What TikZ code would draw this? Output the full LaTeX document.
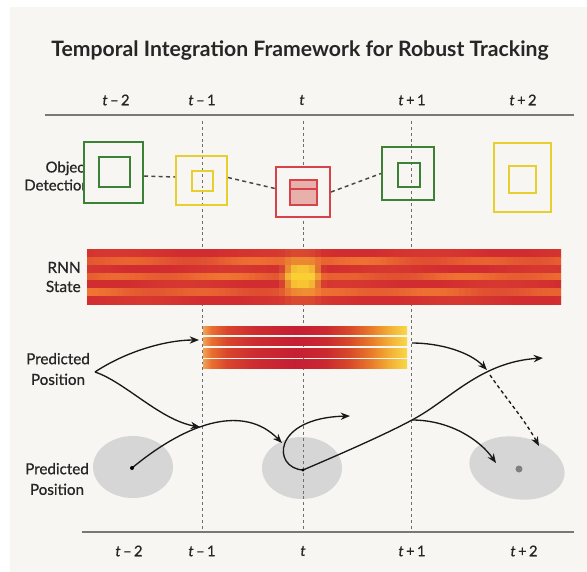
\documentclass[tikz,border=0pt]{standalone}
\usepackage{fontspec}
\setmainfont{Lato}
\newfontfamily\medfont{Lato}[FakeBold=0.7]
\usetikzlibrary{arrows.meta,calc}

\definecolor{paper}{HTML}{F7F6F3}
\definecolor{ink}{HTML}{262626}
\definecolor{axisgray}{HTML}{787878}
\definecolor{guide}{HTML}{6E6E6E}
\definecolor{detGreen}{HTML}{3C8236}
\definecolor{detYellow}{HTML}{E6CF2E}
\definecolor{detRed}{HTML}{D8424A}
\definecolor{detRedFill}{HTML}{E8B0AA}
\definecolor{blob}{HTML}{D6D6D6}
\definecolor{hmRed}{HTML}{D02A30}
\definecolor{hmOrange}{HTML}{F07532}
\definecolor{hmYellow}{HTML}{F9CF34}
% colour stops of the short prediction strips
\definecolor{sh0}{HTML}{F0A458}
\definecolor{sh1}{HTML}{E9702F}
\definecolor{sh2}{HTML}{D9442C}
\definecolor{sh3}{HTML}{CD2C30}
\definecolor{sh4}{HTML}{C51F33}
\definecolor{sh5}{HTML}{CB2830}
\definecolor{sh6}{HTML}{D84A2A}
\definecolor{sh7}{HTML}{E8782A}
\definecolor{sh8}{HTML}{F2A832}
\definecolor{sh9}{HTML}{F8D848}

\pgfdeclarehorizontalshading{stripheat}{100bp}{%
  color(0bp)=(sh0); color(25bp)=(sh0); color(27bp)=(sh1); color(31bp)=(sh2);
  color(37.5bp)=(sh3); color(47.5bp)=(sh4); color(55bp)=(sh5); color(61bp)=(sh6);
  color(66bp)=(sh7); color(70bp)=(sh8); color(75bp)=(sh9); color(100bp)=(sh9)}

\tikzset{
  titletext/.style={font=\fontsize{15.9}{18}\selectfont\bfseries, text=ink},
  rowlabel/.style={font=\medfont\fontsize{11.2}{13.5}\selectfont, text=ink, inner sep=0pt},
  ticklabel/.style={font=\medfont\fontsize{11}{13}\selectfont, text=ink, inner sep=0pt},
  axisline/.style={draw=axisgray, line width=1.2pt},
  guideline/.style={draw=guide, line width=0.7pt, dash pattern=on 2.2pt off 2.2pt},
  outerbox/.style={draw=#1, line width=1.5pt, inner sep=0pt, fill=paper},
  innerbox/.style={draw=#1, line width=1.5pt, inner sep=0pt},
  linkline/.style={draw=ink!85, line width=1.1pt, dash pattern=on 3pt off 2.5pt},
  flow/.style={draw=black!90, line width=1pt, -{Stealth[length=7pt,width=5.5pt]}},
  flowdash/.style={flow, dash pattern=on 2.6pt off 2.2pt},
}

\newcommand{\tl}[2]{\textit{#1}\,#2}

\begin{document}
\begin{tikzpicture}[x=0.75pt, y=-0.75pt]
\useasboundingbox (0,0) rectangle (587,572);
\fill[white] (0,0) rectangle (587,572);
\fill[paper] (10,7) rectangle (587,572);

% title
\node[titletext] (title) at (300,51) {Temporal Integration Framework for Robust Tracking};

% time axes
\coordinate (axTL) at (45,115);  \coordinate (axTR) at (574,115);
\coordinate (axBL) at (82,532);  \coordinate (axBR) at (574,532);
\draw[axisline] (axTL) -- (axTR);
\draw[axisline] (axBL) -- (axBR);

\node[ticklabel] (top1) at (116,100) {\tl{t}{–\,2}};
\node[ticklabel] (top2) at (202,100) {\tl{t}{–\,1}};
\node[ticklabel] (top3) at (302,100) {\textit{t}};
\node[ticklabel] (top4) at (412,100) {\tl{t}{+\,1}};
\node[ticklabel] (top5) at (523,100) {\tl{t}{+\,2}};

\node[ticklabel] (bot1) at (129,551) {\tl{t}{–\,2}};
\node[ticklabel] (bot2) at (202,551) {\tl{t}{–\,1}};
\node[ticklabel] (bot3) at (303,551) {\textit{t}};
\node[ticklabel] (bot4) at (412,551) {\tl{t}{+\,1}};
\node[ticklabel] (bot5) at (524,551) {\tl{t}{+\,2}};

% uncertainty blobs of the predicted positions
\coordinate (d1) at (132,468);
\coordinate (d2) at (303,470);
\coordinate (d3) at (519,469);
\fill[blob] (133,467) ellipse [x radius=40, y radius=31];
\fill[blob] (302,468) ellipse [x radius=40, y radius=31];
\fill[blob, rotate around={-10:(517,468)}] (517,468) ellipse [x radius=48, y radius=31];

% guides at t-1, t, t+1
\coordinate (g1a) at (202,121); \coordinate (g1b) at (202,529);
\coordinate (g2a) at (303,121); \coordinate (g2b) at (303,529);
\coordinate (g3a) at (411,121); \coordinate (g3b) at (411,529);
\draw[guideline] (g1a) -- (g1b);
\draw[guideline] (g2a) -- (g2b);
\draw[guideline] (g3a) -- (g3b);

% RNN state heat map
\begin{scope}
  \clip (87,249) rectangle (561,304);
  \foreach \i in {0,...,78}{
    \foreach \j in {0,...,6}{
      \pgfmathsetmacro{\xc}{90+6*\i}
      \pgfmathsetmacro{\w}{{0.1,0.3,0.75,1,0.75,0.3,0.1}[\j]}
      \pgfmathsetmacro{\dd}{min(3,abs(\xc-302)/17)}
      \pgfmathsetmacro{\hh}{min(100,125*\w*exp(-(\dd)^4))}
      \ifodd\j
        \pgfmathsetmacro{\v}{max(0,min(100,72+15*sin(3.1*\xc+35*\j)+12*sin(1.2*\xc+70*\j)))}
        \colorlet{cellbase}{hmOrange!\v!hmRed}
      \else
        \pgfmathsetmacro{\v}{max(0,min(100,90+8*sin(2.3*\xc+50*\j)))}
        \colorlet{cellbase}{hmRed!\v!hmOrange}
      \fi
      \colorlet{cellc}{hmYellow!\hh!cellbase}
      \fill[cellc] (\xc-3,{249+55/7*\j}) rectangle ++(6.8,{55/7+0.8});
    }
  }
\end{scope}

% short prediction strips
\foreach \y in {326,337.3,348.6,359.9}{
  \shade[shading=stripheat] (203,\y) rectangle (407,\y+8.6);
}
\coordinate (hmL) at (199,340);
\coordinate (hmR) at (412,343);

% row labels
\node[rowlabel, anchor=east, align=right] (objlab) at (90,176) {Object\\Detection};
\node[rowlabel, anchor=east, align=right, font=\medfont\fontsize{11.6}{14.3}\selectfont] (rnnlab) at (81,277) {RNN\\State};
\node[rowlabel, align=center, font=\medfont\fontsize{11.4}{15.5}\selectfont] (pp1) at (58,369) {Predicted\\Position};
\node[rowlabel, align=center, font=\medfont\fontsize{11.4}{15.5}\selectfont] (pp2) at (57,479) {Predicted\\Position};

% detection boxes
\node[outerbox=detGreen, minimum width=59*0.75pt, minimum height=61*0.75pt] (b1) at (113.5,172.5) {};
\node[innerbox=detGreen, minimum width=31*0.75pt, minimum height=30*0.75pt] (b1i) at (114.5,172) {};
\node[innerbox=detYellow, minimum width=51*0.75pt, minimum height=49*0.75pt] (b2) at (201.5,180.5) {};
\node[innerbox=detYellow, minimum width=21*0.75pt, minimum height=20*0.75pt] (b2i) at (202.5,181) {};
\node[innerbox=detRed, minimum width=54*0.75pt, minimum height=50*0.75pt, fill=paper] (b3) at (303,192) {};
\node[innerbox=detRed, fill=detRedFill, minimum width=27*0.75pt, minimum height=25*0.75pt] (b3i) at (303.5,192.5) {};
\draw[detRed, line width=1.3pt] (b3i.west |- 0,189) -- (b3i.east |- 0,189);
\node[innerbox=detGreen, minimum width=52*0.75pt, minimum height=53*0.75pt] (b4) at (408,173.5) {};
\node[innerbox=detGreen, minimum width=22*0.75pt, minimum height=24*0.75pt] (b4i) at (409,175) {};
\node[innerbox=detYellow, minimum width=57*0.75pt, minimum height=69*0.75pt] (b5) at (522.5,177.5) {};
\node[innerbox=detYellow, minimum width=27*0.75pt, minimum height=27*0.75pt] (b5i) at (522.5,179.5) {};

% track links between detections
\draw[linkline] ($(b1.east)+(0,3.5)$) -- ($(b2.west)+(0,-3.5)$);
\draw[linkline] ($(b2.east)+(0,-3)$) -- ($(b3.west)+(0,-3.5)$);
\draw[linkline] (b3.east) -- (b4.west);

% prediction flows
\coordinate (fork) at (95,372);
\coordinate (c1) at (200,427);
\coordinate (a3) at (282,443);
\coordinate (a4) at (350,416);
\coordinate (k1) at (412,420);
\coordinate (a5) at (543,358);
\coordinate (a6) at (496,463);
\coordinate (k2) at (487,370);
\coordinate (k2s) at (490,375);
\coordinate (a8) at (539,446);

\draw[flow] (fork) .. controls (125,352) and (165,340) .. (hmL);
\draw[flow] (fork) .. controls (125,382) and (160,420) .. (c1);
\draw[flow] (d1) .. controls (190,420) and (245,405) .. (a3);
\draw[flow] (d2) .. controls (272,468) and (272,418) .. (a4);
\draw[flow] (d2) .. controls (350,450) and (390,432) .. (k1) .. controls (450,400) and (480,362) .. (a5);
\draw[flow] (k1) .. controls (450,420) and (480,440) .. (a6);
\draw[flow] (hmR) .. controls (440,343) and (470,352) .. (k2);
\draw[flowdash] (k2s) .. controls (505,397) and (525,420) .. (a8);

% centre markers
\fill[black] (d1) circle [radius=2];
\fill[black] (d2) circle [radius=1.6];
\fill[black!50] (d3) circle [radius=3.5];
\end{tikzpicture}
\end{document}
